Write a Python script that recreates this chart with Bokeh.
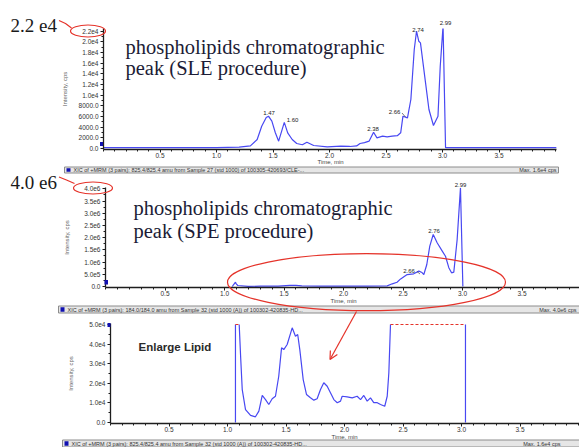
import numpy as np
from bokeh.plotting import figure
from bokeh.models import (Range1d, FixedTicker, NumeralTickFormatter, Arrow, OpenHead, GridBox)
from bokeh.core.properties import value
from bokeh.embed import file_html
from bokeh.resources import INLINE

NAN = float("nan")

# ----------------------------- data -----------------------------
TIME_TICKS = [0.5, 1.0, 1.5, 2.0, 2.5, 3.0, 3.5]
TIME_LABEL = "Time, min"
INTENSITY_LABEL = "Intensity, cps"

# panel 1 : SLE procedure
SLE_TIME = [0.00, 0.50, 1.00, 1.20, 1.30, 1.36, 1.40, 1.44, 1.46, 1.49, 1.52, 1.55,
            1.58, 1.60, 1.63, 1.67, 1.71, 1.76, 1.80, 1.86, 1.98, 2.10, 2.18, 2.24,
            2.27, 2.31, 2.35, 2.39, 2.42, 2.47, 2.51, 2.555, 2.60, 2.63, 2.65, 2.69,
            2.72, 2.75, 2.77, 2.79, 2.805, 2.85, 2.88, 2.92, 2.96, 2.98, 3.005, 3.027,
            3.50, 4.01]
SLE_INTENSITY = [150, 150, 180, 250, 500, 1690, 4180, 5800, 6060, 5120, 3000, 1370,
                 3500, 4900, 2940, 1690, 940, 700, 1180, 560, 320, 440, 380, 480,
                 940, 1100, 1370, 3060, 2000, 2310, 2190, 2310, 2400, 2940, 6060, 5750,
                 9190, 18570, 22000, 20120, 19820, 12320, 7310, 4310, 6060, 15440, 23000, 150,
                 150, 150]
SLE_Y_TICKS = [0, 2000, 4000, 6000, 8000, 10000, 12000, 14000, 16000, 18000, 20000, 22000]
SLE_Y_LABELS = ["0.0", "2000.0", "4000.0", "6000.0", "8000.0", "1.0e4", "1.2e4",
                "1.4e4", "1.6e4", "1.8e4", "2.0e4", "2.2e4"]
SLE_PEAKS = ["1.47", "1.60", "2.38", "2.66", "2.74", "2.99"]

# panel 2 : SPE procedure
SPE_TIME = [1.065, 1.080, 1.092, 1.100, 1.112, 1.20, 1.30, 1.45, 1.55, 1.60,
            1.65, 1.80, 2.00, 2.20, 2.367, 2.41, 2.45, 2.48, 2.535, 2.59,
            2.633, 2.66, 2.675, 2.70, 2.725, 2.754, 2.787, 2.83, 2.857, 2.885,
            2.908, 2.927, 2.955, 2.983, 3.003]
SPE_INTENSITY = [0, 1.0e5, 1.76e5, 1.0e5, 4.0e4, 5.0e3, 1.3e4, 1.3e4, 4.8e4, 4.5e4,
                 2.2e4, 1.6e4, 1.3e4, 1.3e4, 2.5e4, 1.1e5, 1.76e5, 3.1e5, 4.9e5, 5.2e5,
                 6.3e5, 5.7e5, 4.9e5, 9.0e5, 1.65e6, 2.13e6, 1.79e6, 1.45e6, 1.24e6, 7.7e5,
                 5.6e5, 5.9e5, 1.92e6, 4.04e6, 0]
SPE_Y_TICKS = [0, 500000, 1000000, 1500000, 2000000, 2500000, 3000000, 3500000, 4000000]
SPE_Y_LABELS = ["0.0", "5.0e5", "1.0e6", "1.5e6", "2.0e6", "2.5e6", "3.0e6", "3.5e6", "4.0e6"]
SPE_PEAKS = ["2.66", "2.76", "2.99"]

# panel 3 : enlarged lipid trace (saturated spans drawn in red)
ENL_TIME = [1.068, 1.068, NAN, 1.100, 1.112, 1.126, 1.154, 1.197, 1.239, 1.268,
            1.297, 1.325, 1.353, 1.382, 1.410, 1.438, 1.462, 1.481, 1.510, 1.553,
            1.581, 1.600, 1.618, 1.647, 1.675, 1.709, 1.738, 1.766, 1.795, 1.823,
            1.852, 1.880, 1.909, 1.938, 1.966, 1.980, 2.023, 2.066, 2.108, 2.137,
            2.165, 2.194, 2.222, 2.250, 2.280, 2.308, 2.344, 2.365, 2.379, 2.393,
            NAN, 3.034, 3.034]
ENL_INTENSITY = [0, 5.0e4, NAN, 5.0e4, 3.38e4, 1.68e4, 0.66e4, 0.36e4, 0.29e4, 0.58e4,
                 1.38e4, 1.17e4, 0.92e4, 1.21e4, 1.34e4, 2.36e4, 3.81e4, 3.72e4, 3.98e4, 4.83e4,
                 4.40e4, 4.49e4, 3.72e4, 2.19e4, 1.43e4, 1.26e4, 1.14e4, 1.21e4, 1.68e4, 2.03e4,
                 1.85e4, 1.52e4, 1.17e4, 1.01e4, 1.09e4, 1.34e4, 1.31e4, 1.26e4, 1.34e4, 1.17e4,
                 1.38e4, 1.09e4, 1.26e4, 1.01e4, 1.01e4, 0.92e4, 0.83e4, 1.34e4, 2.54e4, 5.0e4,
                 NAN, 5.0e4, 0]
ENL_SAT_START = [1.068, 2.393]
ENL_SAT_END = [1.100, 3.034]
ENL_SAT_LEVEL = 5.0e4
ENL_Y_TICKS = [0, 10000, 20000, 30000, 40000, 50000]
ENL_Y_LABELS = ["0.0", "1.0e4", "2.0e4", "3.0e4", "4.0e4", "5.0e4"]

HEADER_1 = "XIC of +MRM (3 pairs): 825.4/825.4 amu from Sample 27 (std 1000) of 100305-420693/CLE-..."
HEADER_1_MAX = "Max. 1.6e4 cps"
HEADER_2 = "XIC of +MRM (3 pairs): 184.0/184.0 amu from Sample 32 (std 1000 (A)) of 100302-420835-HD..."
HEADER_2_MAX = "Max. 4.0e6 cps"
HEADER_3 = "XIC of +MRM (3 pairs): 825.4/825.4 amu from Sample 32 (std 1000 (A)) of 100302-420835-HD..."
HEADER_3_MAX = "Max. 1.6e4 cps"

# ----------------------------- style -----------------------------
PAGE = 0
W = 579
H = 447
TRACE = "#4848f2"
RED = "#e5332a"
AX = "#1e1e1e"
SERIF = "Liberation Serif"
SANS = "Liberation Sans"
NAVY = "#1c1c36"


def make_panel(top, height, left, right, ftop, fbottom, ppm, ppu,
               y_ticks, y_labels, y_minor, ylab_standoff):
    zero = fbottom - 1.0
    x_end = (right - left) / ppm
    y_start = -1.0 / ppu
    y_end = (zero - ftop) / ppu
    p = figure(width=W, height=height, x_range=Range1d(0, x_end),
               y_range=Range1d(y_start, y_end), output_backend="svg",
               toolbar_location=None, title=None,
               min_border_left=left - PAGE, min_border_right=PAGE + W - right,
               min_border_top=ftop - top, min_border_bottom=top + height - fbottom)
    p.frame_align = False
    p.outline_line_color = None
    p.background_fill_color = "white"
    p.border_fill_color = "white"
    p.xgrid.visible = False
    p.ygrid.visible = False
    xa = p.xaxis[0]
    ya = p.yaxis[0]
    xa.ticker = FixedTicker(ticks=TIME_TICKS,
                            minor_ticks=[round(0.1 * i, 1) for i in range(0, 41)])
    xa.formatter = NumeralTickFormatter(format="0.0")
    ya.ticker = FixedTicker(ticks=y_ticks, minor_ticks=y_minor)
    ya.major_label_overrides = dict(zip(y_ticks, y_labels))
    for ax in (xa, ya):
        ax.axis_line_color = AX
        ax.axis_line_width = 1.3
        ax.major_tick_line_color = AX
        ax.major_tick_out = 3
        ax.major_tick_in = 0
        ax.minor_tick_line_color = AX
        ax.minor_tick_out = 2
        ax.minor_tick_in = 0
        ax.major_label_text_font = SANS
        ax.major_label_text_font_size = "6.5px"
        ax.major_label_text_color = "#333333"
    xa.major_label_standoff = 0
    ya.major_label_standoff = 2
    ya.axis_label = INTENSITY_LABEL
    ya.axis_label_text_font = SANS
    ya.axis_label_text_font_size = "6px"
    ya.axis_label_text_font_style = "normal"
    ya.axis_label_text_color = "#666666"
    ya.axis_label_standoff = ylab_standoff
    return p


# ----------------------------- panels -----------------------------
p1 = make_panel(top=0, height=163, left=103, right=556, ftop=28, fbottom=149,
                ppm=113.0, ppu=117.3 / 22000.0, y_ticks=SLE_Y_TICKS, y_labels=SLE_Y_LABELS,
                y_minor=list(range(0, 22001, 1000)), ylab_standoff=8)
p1.line(SLE_TIME, SLE_INTENSITY, line_color=TRACE, line_width=1.2)

p2 = make_panel(top=163, height=153, left=105, right=579, ftop=187, fbottom=287,
                ppm=119.0, ppu=97.7 / 4.0e6, y_ticks=SPE_Y_TICKS, y_labels=SPE_Y_LABELS,
                y_minor=list(range(0, 4000001, 250000)), ylab_standoff=11)
p2.line(SPE_TIME, SPE_INTENSITY, line_color=TRACE, line_width=1.2)

p3 = make_panel(top=316, height=131, left=110, right=579, ftop=323, fbottom=423,
                ppm=117.0, ppu=98.0 / 5.0e4, y_ticks=ENL_Y_TICKS, y_labels=ENL_Y_LABELS,
                y_minor=list(range(0, 50001, 5000)), ylab_standoff=12)
p3.line(ENL_TIME, ENL_INTENSITY, line_color=TRACE, line_width=1.2)
p3.segment(x0=ENL_SAT_START, y0=[ENL_SAT_LEVEL] * len(ENL_SAT_START),
           x1=ENL_SAT_END, y1=[ENL_SAT_LEVEL] * len(ENL_SAT_END),
           line_color=RED, line_width=1.2, line_dash="3 2")

# ------------------- annotation overlay (page-pixel coordinates) -------------------
ov = figure(width=W, height=H, x_range=Range1d(PAGE, PAGE + W),
            y_range=Range1d(PAGE + H, PAGE), output_backend="svg",
            toolbar_location=None, title=None, x_axis_type=None, y_axis_type=None,
            min_border=0)
ov.frame_align = False
ov.min_border_left = ov.min_border_right = ov.min_border_top = ov.min_border_bottom = 0
ov.outline_line_color = None
ov.background_fill_alpha = 0
ov.border_fill_alpha = 0
ov.xgrid.visible = False
ov.ygrid.visible = False


def txt(x, y, s, size, font=SANS, color="#222222", align="left", baseline="middle",
        style="normal"):
    ov.text(x=[x], y=[y], text=[s], text_font=value(font), text_font_size=value(f"{size}px"),
            text_color=color, text_align=align, text_baseline=baseline,
            text_font_style=style)


def poly(pts, color=RED, width=1.2):
    ov.line([a for a, _ in pts], [b for _, b in pts], line_color=color, line_width=width)


def oval(cx, cy, w, h, color=RED, width=1.2):
    ov.ellipse(x=[cx], y=[cy], width=[w], height=[h], fill_color=None,
               line_color=color, line_width=width)


def box(x0, y0, x1, y1, fill, line=None):
    ov.quad(left=[x0], right=[x1], top=[y0], bottom=[y1], fill_color=fill,
            line_color=line, line_width=1)


def header(x0, x1, y0, y1, s, smax, max_right):
    box(x0, y0, x1, y1, "#e6e6e6", "#8c8c8c")
    box(x0 + 2, y0 + 1.2, x0 + 6, y1 - 1.2, "#1010b0")
    txt(x0 + 9, (y0 + y1) / 2, s, 5.5, color="#333333")
    txt(max_right, (y0 + y1) / 2, smax, 5.5, color="#333333", align="right")


# panel 1 annotations
for s, (x, y) in zip(SLE_PEAKS, [(268.5, 112), (292, 119.5), (372.5, 128),
                                 (394, 111.5), (417.5, 29.5), (445, 22.5)]):
    txt(x, y, s, 6, align="center")
poly([(401.5, 112.5), (405, 116.5)], color="#444444", width=0.7)
txt(330, 161, TIME_LABEL, 6, color="#444444", align="center")
box(99.5, 141.5, 102.5, 145.5, "#1010b0")
txt(10, 25, "2.2 e4", 19, font=SERIF, color="#1a1a1a", baseline="alphabetic")
poly([(58.5, 20), (65, 23), (71, 27.5)])
oval(87.5, 30.5, 35, 12)
txt(125, 46.5, "phospholipids chromatographic", 20.5, font=SERIF, color=NAVY,
    baseline="alphabetic")
txt(125, 67, "peak (SLE procedure)", 20.5, font=SERIF, color=NAVY, baseline="alphabetic")

# panel 2 annotations
header(64, 558, 166.5, 172.5, HEADER_1, HEADER_1_MAX, 556)
for s, (x, y) in zip(SPE_PEAKS, [(408.5, 270.5), (433.5, 230.5), (460, 184.5)]):
    txt(x, y, s, 6, align="center")
poly([(416.5, 271), (419.5, 273.5)], color="#444444", width=0.7)
txt(343, 300.5, TIME_LABEL, 6, color="#444444", align="center")
box(104, 279.5, 107.5, 284, "#1010b0")
txt(10, 182, "4.0 e6", 19, font=SERIF, color="#1a1a1a", baseline="alphabetic")
poly([(58.5, 176.5), (66, 179.5), (74, 183)])
oval(92.5, 187.5, 39, 12)
txt(133, 207.3, "phospholipids chromatographic", 20.5, font=SERIF, color=NAVY,
    baseline="alphabetic")
txt(133, 230, "peak (SPE procedure)", 20.5, font=SERIF, color=NAVY, baseline="alphabetic")
header(58, 585, 305.5, 312.5, HEADER_2, HEADER_2_MAX, 576)
oval(366, 281.7, 278, 57)
ov.add_layout(Arrow(x_start=356, y_start=311, x_end=329.5, y_end=359,
                    line_color=RED, line_width=1.2,
                    end=OpenHead(size=8, line_color=RED, line_width=1.2)))

# panel 3 annotations
txt(344, 436.5, TIME_LABEL, 6, color="#444444", align="center")
box(107, 322.5, 110, 326.5, "#1010b0")
txt(138, 346.5, "Enlarge Lipid", 11.5, color="#2a2a2a", baseline="alphabetic",
    style="bold")
header(62, 585, 439.5, 446.5, HEADER_3, HEADER_3_MAX, 560)

layout = GridBox(children=[(p1, 0, 0), (p2, 1, 0), (p3, 2, 0), (ov, 0, 0, 3, 1)],
                 spacing=0)
open("out.html", "w").write(file_html(layout, INLINE))
